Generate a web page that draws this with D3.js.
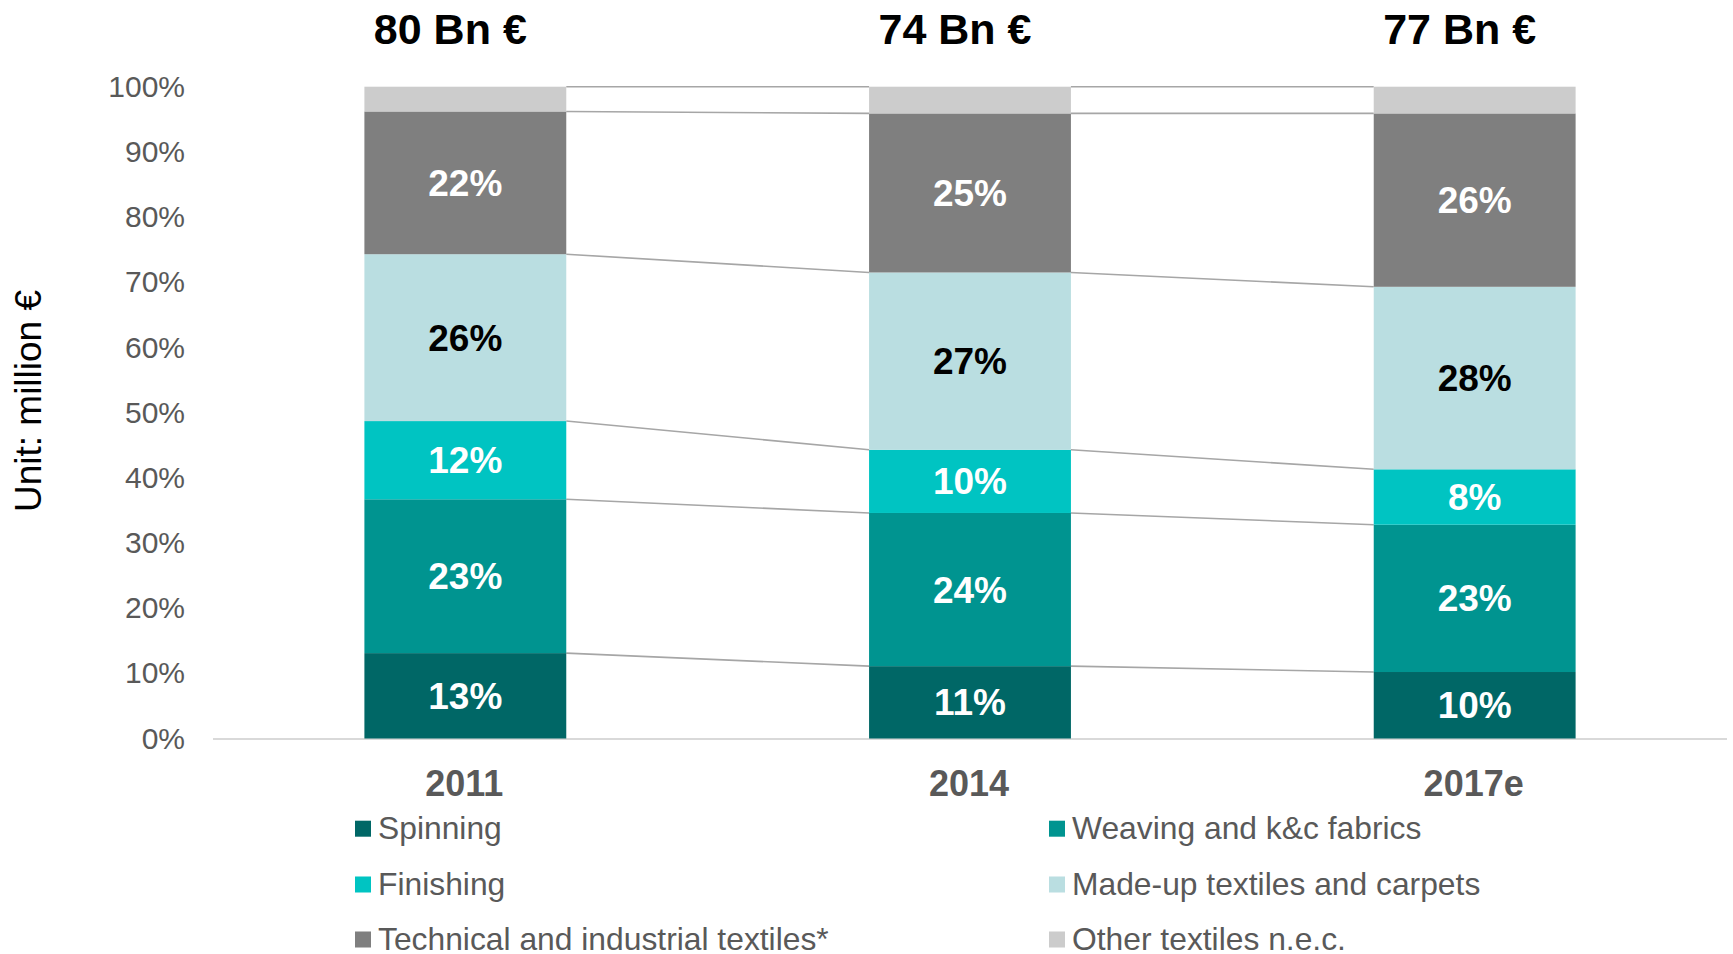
<!DOCTYPE html>
<html>
<head>
<meta charset="utf-8">
<script src="https://cdn.jsdelivr.net/npm/d3@7"></script>
<style>
  html, body { margin: 0; padding: 0; background: #ffffff; }
  svg { display: block; font-family: "Liberation Sans", Arial, sans-serif; }
</style>
</head>
<body>
<svg id="chart" width="1733" height="954"></svg>
<script>
// ---- data ----
const years = ["2011", "2014", "2017e"];
const totals = ["80 Bn €", "74 Bn €", "77 Bn €"];
const seriesNames = ["Spinning", "Weaving and k&c fabrics", "Finishing",
  "Made-up textiles and carpets", "Technical and industrial textiles*", "Other textiles n.e.c."];
const spinning   = [13.1, 11.1, 10.2];
const weaving    = [23.6, 23.5, 22.6];
const finishing  = [12.0, 9.7, 8.5];
const madeUp     = [25.6, 27.2, 28.0];
const technical  = [21.9, 24.4, 26.6];
const other      = [3.8, 4.1, 4.1];
const spinningLabels  = ["13%", "11%", "10%"];
const weavingLabels   = ["23%", "24%", "23%"];
const finishingLabels = ["12%", "10%", "8%"];
const madeUpLabels    = ["26%", "27%", "28%"];
const technicalLabels = ["22%", "25%", "26%"];
const otherLabels     = ["", "", ""];
const yTicks = [0, 10, 20, 30, 40, 50, 60, 70, 80, 90, 100];

// ---- styles ----
const colors = ["#006766", "#009490", "#00C4C2", "#BADEE1", "#7F7F7F", "#CCCCCC"];
const labelColors = ["#ffffff", "#ffffff", "#ffffff", "#000000", "#ffffff", "#ffffff"];

const seriesValues = [spinning, weaving, finishing, madeUp, technical, other];
const seriesLabels = [spinningLabels, weavingLabels, finishingLabels, madeUpLabels, technicalLabels, otherLabels];

const rows = years.map((y, i) => {
  const r = { year: y };
  seriesNames.forEach((s, k) => r[s] = seriesValues[k][i]);
  return r;
});
const stacked = d3.stack().keys(seriesNames)(rows);

const svg = d3.select("#chart");
const x = d3.scaleBand().domain(years).range([213, 1727]).paddingInner(0.6).paddingOuter(0.3);
const y = d3.scaleLinear().domain([0, 100]).range([738.5, 86.7]);

// baseline
svg.append("line")
  .attr("x1", 213).attr("x2", 1727)
  .attr("y1", y(0) + 0.5).attr("y2", y(0) + 0.5)
  .attr("stroke", "#d9d9d9").attr("stroke-width", 2);

// y axis
const yAxis = d3.axisLeft(y).tickValues(yTicks).tickSize(0).tickPadding(28)
  .tickFormat(d => d + "%");
const gy = svg.append("g").attr("transform", "translate(213,0)").call(yAxis);
gy.select(".domain").remove();
gy.selectAll("text")
  .attr("font-family", "Liberation Sans, Arial, sans-serif")
  .attr("font-size", 30).attr("fill", "#595959");

// y axis title
svg.append("text")
  .attr("transform", "translate(41,401) rotate(-90)")
  .attr("text-anchor", "middle")
  .attr("font-size", 37).attr("fill", "#000000")
  .text("Unit: million €");

// connector lines
const lineLevels = stacked.map(layer => layer.map(d => d[1]));
const gConn = svg.append("g");
for (let k = 0; k < lineLevels.length; k++) {
  for (let i = 0; i < years.length - 1; i++) {
    gConn.append("line")
      .attr("x1", x(years[i]) + x.bandwidth())
      .attr("x2", x(years[i + 1]))
      .attr("y1", y(lineLevels[k][i]))
      .attr("y2", y(lineLevels[k][i + 1]))
      .attr("stroke", "#a6a6a6").attr("stroke-width", 1.6);
  }
}

// bars
stacked.forEach((layer, k) => {
  svg.append("g").attr("fill", colors[k])
    .selectAll("rect").data(layer).join("rect")
    .attr("x", d => x(d.data.year))
    .attr("width", x.bandwidth())
    .attr("y", d => y(d[1]))
    .attr("height", d => y(d[0]) - y(d[1]));
});

// bar labels
stacked.forEach((layer, k) => {
  svg.append("g").selectAll("text").data(layer).join("text")
    .attr("x", d => x(d.data.year) + x.bandwidth() / 2)
    .attr("y", d => (y(d[0]) + y(d[1])) / 2 + 13)
    .attr("text-anchor", "middle")
    .attr("font-size", 37).attr("font-weight", "bold")
    .attr("fill", labelColors[k])
    .text((d, i) => seriesLabels[k][i]);
});

// totals on top
svg.append("g").selectAll("text").data(years).join("text")
  .attr("x", d => x(d) + x.bandwidth() / 2 - 15)
  .attr("y", 44)
  .attr("text-anchor", "middle")
  .attr("font-size", 43).attr("font-weight", "bold").attr("fill", "#000000")
  .text((d, i) => totals[i]);

// x axis labels
svg.append("g").selectAll("text").data(years).join("text")
  .attr("x", d => x(d) + x.bandwidth() / 2 - 1)
  .attr("y", 796)
  .attr("text-anchor", "middle")
  .attr("font-size", 36).attr("font-weight", "bold").attr("fill", "#595959")
  .text(d => d);

// legend
const legX = [355, 1049];
const legY = [828.7, 884.5, 939.5];
const leg = svg.append("g");
seriesNames.forEach((s, k) => {
  const cx = legX[k % 2], cy = legY[Math.floor(k / 2)];
  leg.append("rect").attr("x", cx).attr("y", cy - 8).attr("width", 16).attr("height", 16)
    .attr("fill", colors[k]);
  leg.append("text").attr("x", cx + 23).attr("y", cy + 10.5)
    .attr("font-size", 31.8).attr("fill", "#595959").text(s);
});
</script>
</body>
</html>
